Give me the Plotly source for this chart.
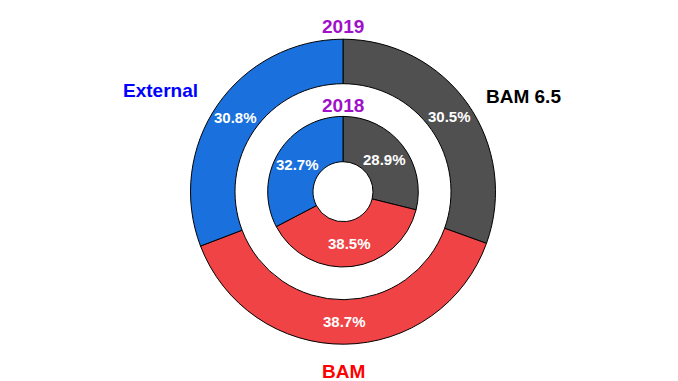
import math
import plotly.graph_objects as go

categories = ["BAM 6.5", "BAM", "External"]
values_2019 = [30.5, 38.7, 30.8]
values_2018 = [28.9, 38.5, 32.7]
colors = ["#505050", "#F04345", "#1A70DC"]

W, H = 678, 381
OFF = 8  # page body margin offset

def px(x, y):
    return (x - OFF) / W, 1 - (y - OFF) / H

def dom(cx, cy, r):
    x0, y1 = px(cx - r, cy - r)
    x1, y0 = px(cx + r, cy + r)
    return dict(x=[x0, x1], y=[y0, y1])

cx, cy = 343, 191.7
R_OUT, R_OUT_IN = 152.5, 108
R_IN, R_IN_IN = 75.3, 30

fig = go.Figure()
for vals, r, hole in [(values_2019, R_OUT, R_OUT_IN / R_OUT), (values_2018, R_IN, R_IN_IN / R_IN)]:
    fig.add_trace(go.Pie(
        labels=categories, values=vals, sort=False, direction="clockwise", rotation=0,
        hole=hole, domain=dom(cx, cy, r),
        marker=dict(colors=colors, line=dict(color="black", width=1)),
        textinfo="none", showlegend=False, hoverinfo="label+value",
    ))

def ann(text, x, y, color, size=19):
    ax, ay = px(x, y)
    fig.add_annotation(text=f"<b>{text}</b>", x=ax, y=ay, xref="paper", yref="paper",
                       showarrow=False, xanchor="center", yanchor="middle",
                       font=dict(family="Liberation Sans, Arial", size=size, color=color))

# percentage labels at slice mid-angles, ring mid-radius
for vals, r0, r1 in [(values_2019, R_OUT_IN, R_OUT), (values_2018, R_IN_IN, R_IN)]:
    tot = sum(vals)
    cum = 0
    rm = (r0 + r1) / 2
    for v in vals:
        th = 2 * math.pi * (cum + v / 2) / tot
        cum += v
        ann(f"{v:.1f}%", cx + rm * math.sin(th), cy - rm * math.cos(th), "white", size=15)

ann("2019", cx, 27, "#A010C8")
ann("2018", cx, 105, "#A010C8")
ann("External", 160, 90, "#0000FF")
ann("BAM 6.5", 523, 97, "#000000")
ann("BAM", cx, 371, "#FF0000")

fig.update_layout(width=W, height=H, margin=dict(l=0, r=0, t=0, b=0),
                  paper_bgcolor="white", plot_bgcolor="white")
fig.write_html("out.html")
